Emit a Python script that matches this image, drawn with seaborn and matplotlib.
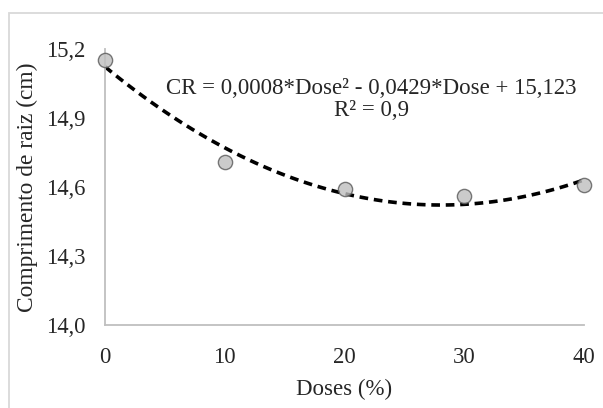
import matplotlib
matplotlib.use("Agg")
import matplotlib.pyplot as plt
import seaborn as sns
import pandas as pd
import numpy as np
from matplotlib.patches import Rectangle

doses = [0, 10, 20, 30, 40]
comprimento = [15.15, 14.71, 14.59, 14.56, 14.61]
y_ticks = [14.0, 14.3, 14.6, 14.9, 15.2]
y_tick_labels = ["14,0", "14,3", "14,6", "14,9", "15,2"]
x_ticks = [0, 10, 20, 30, 40]
equation = "CR = 0,0008*Dose² - 0,0429*Dose + 15,123"
r2_text = "R² = 0,9"

df = pd.DataFrame({"Dose": doses, "CR": comprimento})

sns.set_style("white")
plt.rcParams['font.family'] = ['Liberation Serif', 'DejaVu Serif']

fig = plt.figure(figsize=(6.03, 4.08), dpi=100)
ax = fig.add_axes([105/603, 1-325/408, (584-105)/603, (325-49)/408])

sns.regplot(data=df, x="Dose", y="CR", order=2, ci=None, truncate=True, ax=ax,
            scatter_kws=dict(s=105, color="#bfbfbf", edgecolor="#595959", linewidths=1.0,
                             zorder=3, clip_on=False),
            line_kws=dict(color="black", linestyle=(0, (2.4, 1.6)), linewidth=2.6, zorder=2))

ax.set_xlim(0, 40)
ax.set_ylim(14.0, 15.2)
ax.set_yticks(y_ticks)
ax.set_yticklabels(y_tick_labels)
ax.set_xticks(x_ticks)
ax.tick_params(axis="both", length=0, labelsize=16.3, colors="#262626")
ax.tick_params(axis="y", pad=14)
ax.tick_params(axis="x", pad=16)
for s in ["top", "right"]:
    ax.spines[s].set_visible(False)
for s in ["left", "bottom"]:
    ax.spines[s].set_color("#bfbfbf")
    ax.spines[s].set_linewidth(1.3)
ax.set_xlabel("Doses (%)", fontsize=16.5, color="#262626", labelpad=8)
ax.set_ylabel("Comprimento de raiz (cm)", fontsize=16.8, color="#262626", labelpad=6)

fig.text(371/603, 1-88/408, equation, ha="center", va="center", fontsize=16.5, color="#262626")
fig.text(372/603, 1-110/408, r2_text, ha="center", va="center", fontsize=16.5, color="#262626")

fig.patches.append(Rectangle((9/603, -0.1), 1.2, 1-13/408+0.1, transform=fig.transFigure,
                             fill=False, edgecolor="#d9d9d9", linewidth=1.3))

fig.savefig("out.png", dpi=100)
